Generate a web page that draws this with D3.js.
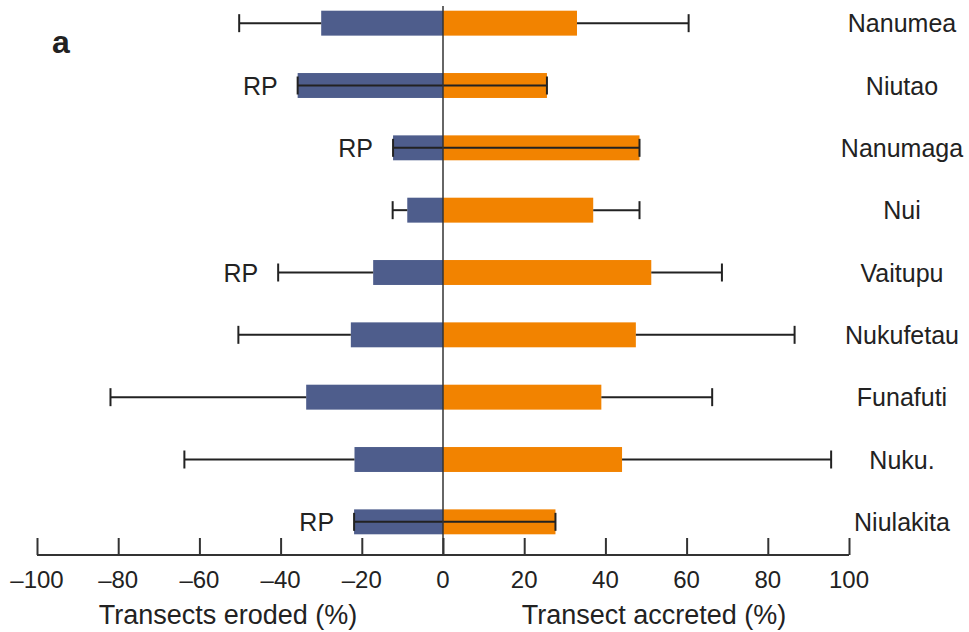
<!DOCTYPE html>
<html>
<head>
<meta charset="utf-8">
<script src="https://cdn.jsdelivr.net/npm/d3@7"></script>
<style>
  body { margin: 0; background: #fff; }
  svg text { font-family: "Liberation Sans", Arial, sans-serif; fill: #222; }
</style>
</head>
<body>
<div id="chart"></div>
<script>
// islands from top to bottom
var islands = ['Nanumea', 'Niutao', 'Nanumaga', 'Nui', 'Vaitupu', 'Nukufetau', 'Funafuti', 'Nuku.', 'Niulakita'];
// mean % of transects eroded (negative) and accreted
var eroded   = [-30, -35.8, -12.3, -8.8, -17.2, -22.7, -33.7, -21.8, -21.9];
var accreted = [33, 25.6, 48.4, 37, 51.3, 47.5, 39, 44.1, 27.7];
// error bar ends
var erodedErr   = [-50.2, -35.8, -12.3, -12.4, -40.6, -50.4, -81.9, -63.7, -21.9];
var accretedErr = [60.5, 25.6, 48.4, 48.4, 68.7, 86.6, 66.3, 95.6, 27.7];
// islands flagged RP
var rpFlags = [false, true, true, false, true, false, false, false, true];
var tickValues = [-100, -80, -60, -40, -20, 0, 20, 40, 60, 80, 100];

var width = 969, height = 632;
var svg = d3.select('#chart').append('svg')
    .attr('width', width)
    .attr('height', height);

var x = d3.scaleLinear().domain([-100, 100]).range([37, 849]);
var y = d3.scaleBand().domain(islands).range([-8, 553]).paddingInner(0.6).paddingOuter(0.3);
var axisY = 555;

// panel letter
svg.append('text')
    .attr('x', 52).attr('y', 53)
    .style('font-size', '32px').style('font-weight', 'bold')
    .text('a');

var rows = islands.map(function(d, i) {
  return {name: d, e: eroded[i], a: accreted[i], ee: erodedErr[i], ae: accretedErr[i], rp: rpFlags[i]};
});

svg.selectAll('rect.eroded').data(rows).enter().append('rect')
    .attr('class', 'eroded')
    .attr('x', function(d) { return x(d.e); })
    .attr('y', function(d) { return y(d.name); })
    .attr('width', function(d) { return x(0) - x(d.e); })
    .attr('height', y.bandwidth())
    .attr('fill', '#4e5d8c');

svg.selectAll('rect.accreted').data(rows).enter().append('rect')
    .attr('class', 'accreted')
    .attr('x', x(0))
    .attr('y', function(d) { return y(d.name); })
    .attr('width', function(d) { return x(d.a) - x(0); })
    .attr('height', y.bandwidth())
    .attr('fill', '#f28300');

// error bars
var err = svg.append('g').attr('stroke', '#222').attr('stroke-width', 2);
rows.forEach(function(d) {
  var cy = y(d.name) + y.bandwidth() / 2;
  var through = d.ee === d.e; // line runs through the bars
  err.append('line')
      .attr('x1', x(d.ee)).attr('x2', through ? x(0) : x(d.e))
      .attr('y1', cy).attr('y2', cy);
  err.append('line')
      .attr('x1', x(d.ee)).attr('x2', x(d.ee))
      .attr('y1', cy - 9).attr('y2', cy + 9);
  var throughA = d.ae === d.a;
  err.append('line')
      .attr('x1', throughA ? x(0) : x(d.a)).attr('x2', x(d.ae))
      .attr('y1', cy).attr('y2', cy);
  err.append('line')
      .attr('x1', x(d.ae)).attr('x2', x(d.ae))
      .attr('y1', cy - 9).attr('y2', cy + 9);
  if (d.rp) {
    svg.append('text')
        .attr('x', x(d.ee) - 20).attr('y', cy + 9)
        .attr('text-anchor', 'end')
        .style('font-size', '25px')
        .text('RP');
  }
});

// zero line
svg.append('line')
    .attr('x1', x(0)).attr('x2', x(0))
    .attr('y1', 6).attr('y2', axisY)
    .attr('stroke', '#333').attr('stroke-width', 1.5);

// island labels
svg.selectAll('text.island').data(rows).enter().append('text')
    .attr('class', 'island')
    .attr('x', 902)
    .attr('y', function(d) { return y(d.name) + y.bandwidth() / 2 + 9; })
    .attr('text-anchor', 'middle')
    .style('font-size', '25px')
    .text(function(d) { return d.name; });

// x axis
var xAxis = d3.axisTop(x).tickValues(tickValues).tickSize(17).tickFormat('');
var gx = svg.append('g')
    .attr('transform', 'translate(0,' + axisY + ')')
    .call(xAxis);
gx.select('.domain').attr('stroke', '#333').attr('stroke-width', 2).attr('d', 'M' + x(-100) + ',0H' + x(100));
gx.selectAll('.tick line').attr('stroke', '#333').attr('stroke-width', 2);

svg.selectAll('text.tick-label').data(tickValues).enter().append('text')
    .attr('class', 'tick-label')
    .attr('x', function(d) { return x(d); })
    .attr('y', 588)
    .attr('text-anchor', 'middle')
    .style('font-size', '24px')
    .text(function(d) { return d < 0 ? '\u2013' + Math.abs(d) : d; });

svg.append('text')
    .attr('x', 228).attr('y', 624)
    .attr('text-anchor', 'middle')
    .style('font-size', '27px')
    .text('Transects eroded (%)');
svg.append('text')
    .attr('x', 654).attr('y', 624)
    .attr('text-anchor', 'middle')
    .style('font-size', '27px')
    .text('Transect accreted (%)');
</script>
</body>
</html>
